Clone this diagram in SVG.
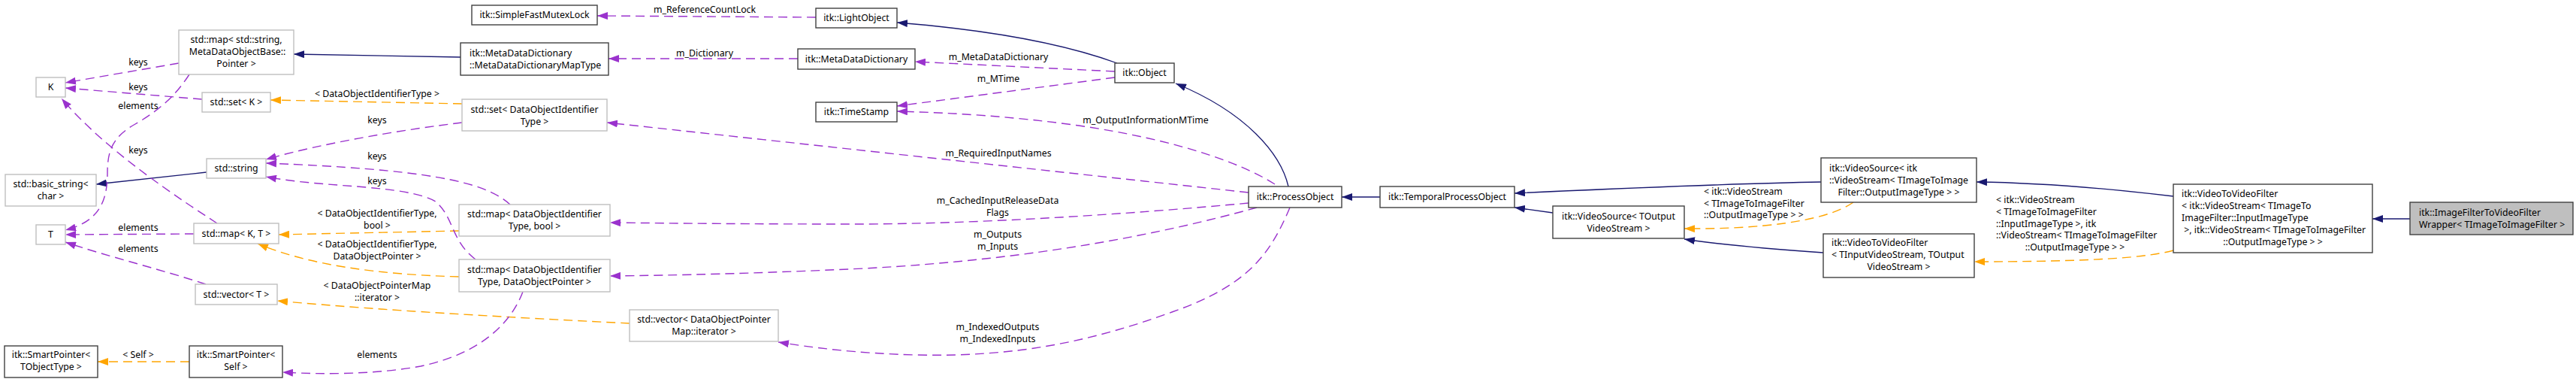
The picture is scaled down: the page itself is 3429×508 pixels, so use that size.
<svg xmlns="http://www.w3.org/2000/svg" width="3429" height="508" viewBox="0 0 3429 508">
<style>
text{font-family:"Noto Sans","DejaVu Sans",sans-serif;font-size:12.3px;fill:#000}
.c{text-anchor:middle}
.nd{fill:#fff;stroke:#404040;stroke-width:1.4}
.ng{fill:#fff;stroke:#bfbfbf;stroke-width:1.4}
.nw{fill:#bfbfbf;stroke:#404040;stroke-width:1.4}
.eb{fill:none;stroke:#191970;stroke-width:1.3;marker-end:url(#ab)}
.eo{fill:none;stroke:#ffa500;stroke-width:1.4;stroke-dasharray:12,7;marker-end:url(#ao)}
.ep{fill:none;stroke:#9a32cd;stroke-width:1.4;stroke-dasharray:12,7;marker-end:url(#ap)}
</style>
<defs>
<marker id="ab" markerUnits="userSpaceOnUse" markerWidth="14" markerHeight="10" refX="14" refY="5" orient="auto" viewBox="0 0 14 10"><path d="M0,0 L14,5 L0,10 z" fill="#191970"/></marker>
<marker id="ao" markerUnits="userSpaceOnUse" markerWidth="14" markerHeight="10" refX="14" refY="5" orient="auto" viewBox="0 0 14 10"><path d="M0,0 L14,5 L0,10 z" fill="#ffa500"/></marker>
<marker id="ap" markerUnits="userSpaceOnUse" markerWidth="14" markerHeight="10" refX="14" refY="5" orient="auto" viewBox="0 0 14 10"><path d="M0,0 L14,5 L0,10 z" fill="#9a32cd"/></marker>
</defs>
<rect width="3429" height="508" fill="#fff"/>
<g id="connectors">
<path class="eb" d="M613,76 L391,72"/>
<path class="eb" d="M1487,84 Q1380,45 1194,30"/>
<path class="eb" d="M1715,248 C1705,205 1660,150 1565,111"/>
<path class="eb" d="M1837,262 L1786,262"/>
<path class="eb" d="M2424,242 Q2300,244 2016,257"/>
<path class="eb" d="M2067,283 L2016,276"/>
<path class="eb" d="M2427,336 C2370,332 2300,327 2242,318"/>
<path class="eb" d="M2893,261 C2800,250 2720,243 2631,242"/>
<path class="eb" d="M3208,291 L3158,291"/>
<path class="eb" d="M275,229 L128,245"/>
<path class="eo" d="M615,138 L360,133"/>
<path class="eo" d="M611,307 L371,312"/>
<path class="eo" d="M611,368 C500,365 410,352 343,324"/>
<path class="eo" d="M838,430 C720,424 520,414 369,400"/>
<path class="eo" d="M252,481 L130,481"/>
<path class="eo" d="M2467,269 C2430,295 2340,305 2242,304"/>
<path class="eo" d="M2893,333 C2850,345 2750,348 2628,348"/>
<path class="ep" d="M238,84 L87,110"/>
<path class="ep" d="M269,132 L87,117"/>
<path class="ep" d="M289,297 C240,265 140,200 82,131"/>
<path class="ep" d="M252,99 C235,125 215,145 180,165 C150,182 143,200 143,230 C143,270 130,295 87,306"/>
<path class="ep" d="M258,311 L87,312"/>
<path class="ep" d="M274,378 C220,360 140,340 87,322"/>
<path class="ep" d="M615,163 C540,172 430,190 354,212"/>
<path class="ep" d="M679,272 C645,240 560,225 354,217"/>
<path class="ep" d="M633,345 C600,320 605,290 580,268 C540,245 430,250 354,235"/>
<path class="ep" d="M696,388 C680,430 640,470 560,487 C500,498 430,498 376,495"/>
<path class="ep" d="M1717,276 C1690,340 1660,380 1560,415 C1450,455 1350,475 1220,472 C1140,470 1080,462 1036,455"/>
<path class="ep" d="M1673,276 C1550,310 1380,345 1150,357 C1000,364 900,366 812,367"/>
<path class="ep" d="M1662,270 C1500,285 1300,298 1140,298 C1000,298 900,297 812,296"/>
<path class="ep" d="M1662,256 L808,163"/>
<path class="ep" d="M1697,245 C1650,215 1560,185 1436,167 C1350,155 1270,150 1194,148"/>
<path class="ep" d="M1484,103 L1194,141"/>
<path class="ep" d="M1484,95 L1218,82"/>
<path class="ep" d="M1062,78 L810,78"/>
<path class="ep" d="M1086,23 L795,21"/>
<text class="c" x="184" y="87">keys</text>
<text class="c" x="184" y="120">keys</text>
<text class="c" x="184" y="145">elements</text>
<text class="c" x="184" y="204">keys</text>
<text class="c" x="502" y="129">&lt; DataObjectIdentifierType &gt;</text>
<text class="c" x="502" y="164">keys</text>
<text class="c" x="502" y="212">keys</text>
<text class="c" x="502" y="245">keys</text>
<text class="c" x="184" y="307">elements</text>
<text class="c" x="184" y="335">elements</text>
<text class="c" x="502" y="288">&lt; DataObjectIdentifierType,<tspan x="502" dy="15.5">bool &gt;</tspan></text>
<text class="c" x="502" y="329">&lt; DataObjectIdentifierType,<tspan x="502" dy="15.5">DataObjectPointer &gt;</tspan></text>
<text class="c" x="502" y="384">&lt; DataObjectPointerMap<tspan x="502" dy="15.5">::iterator &gt;</tspan></text>
<text class="c" x="184" y="476">&lt; Self &gt;</text>
<text class="c" x="502" y="476">elements</text>
<text class="c" x="938" y="17">m_ReferenceCountLock</text>
<text class="c" x="938" y="75">m_Dictionary</text>
<text class="c" x="1329" y="80">m_MetaDataDictionary</text>
<text class="c" x="1329" y="109">m_MTime</text>
<text class="c" x="1525" y="164">m_OutputInformationMTime</text>
<text class="c" x="1329" y="208">m_RequiredInputNames</text>
<text class="c" x="1328" y="271">m_CachedInputReleaseData<tspan x="1328" dy="15.5">Flags</tspan></text>
<text class="c" x="1328" y="316">m_Outputs<tspan x="1328" dy="15.5">m_Inputs</tspan></text>
<text class="c" x="1328" y="439">m_IndexedOutputs<tspan x="1328" dy="15.5">m_IndexedInputs</tspan></text>
<text x="2268" y="259"> &lt; itk::VideoStream<tspan x="2268" dy="15.5">&lt; TImageToImageFilter</tspan><tspan x="2268" dy="15.5">::OutputImageType &gt; &gt;</tspan></text>
<text x="2657" y="270"> &lt; itk::VideoStream<tspan x="2657" dy="15.8">&lt; TImageToImageFilter</tspan><tspan x="2657" dy="15.8">::InputImageType &gt;, itk</tspan><tspan x="2657" dy="15.8">::VideoStream&lt; TImageToImageFilter</tspan><tspan class="c" x="2762" dy="15.8">::OutputImageType &gt; &gt;</tspan></text>
</g>
<g id="n_k"><rect class="ng" x="48" y="103" width="39" height="26"/><text class="c" x="67.5" y="120">K</text></g>
<g id="n_t"><rect class="ng" x="48" y="299" width="39" height="26"/><text class="c" x="67.5" y="316">T</text></g>
<g id="n_basicstring"><rect class="ng" x="7" y="232" width="121" height="42"/><text class="c" x="67.5" y="249">std::basic_string&lt;<tspan x="67.5" dy="16">char &gt;</tspan></text></g>
<g id="n_mapstr"><rect class="ng" x="238" y="40" width="153" height="59"/><text class="c" x="314.5" y="57">std::map&lt; std::string,<tspan x="314.5" dy="16"> MetaDataObjectBase::</tspan><tspan x="314.5" dy="16">Pointer &gt;</tspan></text></g>
<g id="n_setk"><rect class="ng" x="269" y="123" width="91" height="26"/><text class="c" x="314.5" y="140">std::set&lt; K &gt;</text></g>
<g id="n_stdstring"><rect class="ng" x="275" y="211" width="79" height="26"/><text class="c" x="314.5" y="228">std::string</text></g>
<g id="n_mapkt"><rect class="ng" x="258" y="297" width="113" height="27"/><text class="c" x="314.5" y="315">std::map&lt; K, T &gt;</text></g>
<g id="n_vectort"><rect class="ng" x="260" y="378" width="109" height="27"/><text class="c" x="314.5" y="396">std::vector&lt; T &gt;</text></g>
<g id="n_sptobj"><rect class="nd" x="6" y="460" width="124" height="42"/><text class="c" x="68" y="476">itk::SmartPointer&lt;<tspan x="68" dy="16">TObjectType &gt;</tspan></text></g>
<g id="n_spself"><rect class="nd" x="252" y="460" width="124" height="42"/><text class="c" x="314" y="476">itk::SmartPointer&lt;<tspan x="314" dy="16">Self &gt;</tspan></text></g>
<g id="n_mutex"><rect class="nd" x="628" y="7" width="167" height="26"/><text class="c" x="711.5" y="24">itk::SimpleFastMutexLock</text></g>
<g id="n_mddmap"><rect class="nd" x="613" y="57" width="197" height="43"/><text x="625" y="75">itk::MetaDataDictionary<tspan x="625" dy="16">::MetaDataDictionaryMapType</tspan></text></g>
<g id="n_setdoit"><rect class="ng" x="615" y="132" width="193" height="42"/><text class="c" x="711.5" y="150">std::set&lt; DataObjectIdentifier<tspan x="711.5" dy="16">Type &gt;</tspan></text></g>
<g id="n_mapbool"><rect class="ng" x="611" y="272" width="201" height="42"/><text class="c" x="711.5" y="289">std::map&lt; DataObjectIdentifier<tspan x="711.5" dy="16">Type, bool &gt;</tspan></text></g>
<g id="n_mapptr"><rect class="ng" x="611" y="345" width="201" height="43"/><text class="c" x="711.5" y="363">std::map&lt; DataObjectIdentifier<tspan x="711.5" dy="16">Type, DataObjectPointer &gt;</tspan></text></g>
<g id="n_vecdop"><rect class="ng" x="838" y="412" width="198" height="42"/><text class="c" x="937" y="429">std::vector&lt; DataObjectPointer<tspan x="937" dy="16">Map::iterator &gt;</tspan></text></g>
<g id="n_lightobject"><rect class="nd" x="1086" y="11" width="108" height="26"/><text class="c" x="1140" y="28">itk::LightObject</text></g>
<g id="n_mdd"><rect class="nd" x="1062" y="65" width="156" height="27"/><text class="c" x="1140" y="83">itk::MetaDataDictionary</text></g>
<g id="n_timestamp"><rect class="nd" x="1086" y="136" width="108" height="26"/><text class="c" x="1140" y="153">itk::TimeStamp</text></g>
<g id="n_object"><rect class="nd" x="1484" y="84" width="79" height="26"/><text class="c" x="1523.5" y="101">itk::Object</text></g>
<g id="n_processobject"><rect class="nd" x="1662" y="248" width="124" height="28"/><text class="c" x="1724" y="266">itk::ProcessObject</text></g>
<g id="n_tpo"><rect class="nd" x="1837" y="248" width="179" height="28"/><text class="c" x="1926.5" y="266">itk::TemporalProcessObject</text></g>
<g id="n_vstout"><rect class="nd" x="2067" y="274" width="175" height="43"/><text class="c" x="2154.5" y="292">itk::VideoSource&lt; TOutput<tspan x="2154.5" dy="16">VideoStream &gt;</tspan></text></g>
<g id="n_vsitk"><rect class="nd" x="2424" y="210" width="207" height="59"/><text x="2435" y="228">itk::VideoSource&lt; itk<tspan x="2435" dy="16">::VideoStream&lt; TImageToImage</tspan><tspan class="c" x="2527.5" dy="15.5">Filter::OutputImageType &gt; &gt;</tspan></text></g>
<g id="n_vtvft"><rect class="nd" x="2427" y="311" width="201" height="58"/><text x="2438" y="327">itk::VideoToVideoFilter<tspan x="2438" dy="16">&lt; TInputVideoStream, TOutput</tspan><tspan class="c" x="2527.5" dy="16">VideoStream &gt;</tspan></text></g>
<g id="n_vtvfitk"><rect class="nd" x="2893" y="245" width="265" height="91"/><text x="2904" y="262">itk::VideoToVideoFilter<tspan x="2904" dy="16">&lt; itk::VideoStream&lt; TImageTo</tspan><tspan x="2904" dy="16">ImageFilter::InputImageType</tspan><tspan x="2904" dy="16"> &gt;, itk::VideoStream&lt; TImageToImageFilter</tspan><tspan class="c" x="3025.5" dy="16">::OutputImageType &gt; &gt;</tspan></text></g>
<g id="n_wrapper"><rect class="nw" x="3208" y="269" width="217" height="43"/><text x="3220" y="287">itk::ImageFilterToVideoFilter<tspan x="3220" dy="16">Wrapper&lt; TImageToImageFilter &gt;</tspan></text></g>
</svg>
